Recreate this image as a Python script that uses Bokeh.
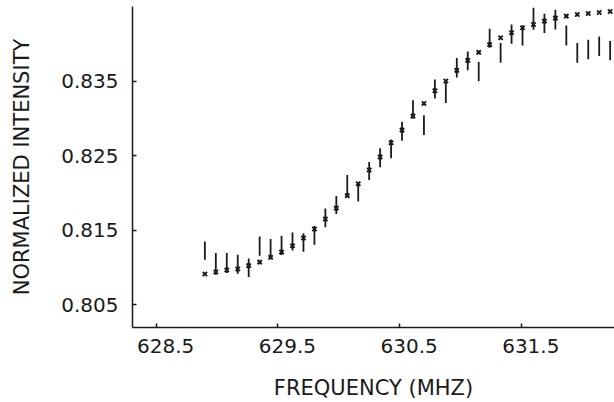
from bokeh.plotting import figure
from bokeh.models import Range1d, FixedTicker, CustomJSTickFormatter
from bokeh.embed import file_html
from bokeh.resources import INLINE

# Frequencies (MHz) of the measured points
freq = [628.90, 628.99, 629.08, 629.17, 629.26, 629.35, 629.44, 629.53, 629.62, 629.71,
        629.80, 629.89, 629.98, 630.07, 630.16, 630.25, 630.34, 630.43, 630.52, 630.61,
        630.70, 630.79, 630.88, 630.97, 631.06, 631.15, 631.24, 631.33, 631.42, 631.51,
        631.60, 631.69, 631.78, 631.87, 631.96, 632.05, 632.14, 632.23]

# Fitted values (x markers)
fit = [0.80915, 0.80942, 0.80968, 0.80982, 0.81026, 0.81075, 0.81137, 0.81209, 0.81293, 0.81398,
       0.81518, 0.81652, 0.81799, 0.81966, 0.82125, 0.82310, 0.82484, 0.82675, 0.82845, 0.83032,
       0.83202, 0.83373, 0.83504, 0.83647, 0.83781, 0.83888, 0.83991, 0.84084, 0.84151, 0.84218,
       0.84262, 0.84306, 0.84347, 0.84373, 0.84396, 0.84409, 0.84423, 0.84436]

# Measured ranges (error bars): upper and lower ends
bar_hi = [0.81351, 0.81196, 0.81196, 0.81173, 0.81123, 0.81418, 0.81383, 0.81427, 0.81471, 0.81460,
          0.81557, 0.81793, 0.81962, 0.82243, 0.82145, 0.82417, 0.82600, 0.82720, 0.82956, 0.83246,
          0.83045, 0.83523, 0.83491, 0.83812, 0.83901, 0.83758, 0.84205, 0.84012, 0.84262, 0.84249,
          0.84486, 0.84405, 0.84459, 0.84249, 0.84012, 0.84058, 0.84102, 0.84039]
bar_lo = [0.81106, 0.80905, 0.80928, 0.80919, 0.80875, 0.81159, 0.81115, 0.81169, 0.81230, 0.81213,
          0.81307, 0.81541, 0.81719, 0.81966, 0.81886, 0.82176, 0.82346, 0.82466, 0.82702, 0.83001,
          0.82778, 0.83269, 0.83210, 0.83549, 0.83647, 0.83500, 0.83951, 0.83750, 0.84004, 0.83981,
          0.84191, 0.84146, 0.84195, 0.83981, 0.83750, 0.83794, 0.83838, 0.83781]

x_ticks = [628.5, 629.5, 630.5, 631.5]
x_tick_labels = ["628.5", "629.5", "630.5", "631.5"]
y_ticks = [0.805, 0.815, 0.825, 0.835]

FONT = "DejaVu Sans"
INK = "#1a1a1a"

p = figure(width=614, height=402,
           x_range=Range1d(628.3053, 632.2658),
           y_range=Range1d(0.80197, 0.84503),
           output_backend="svg", toolbar_location=None,
           min_border_left=132, min_border_right=0,
           min_border_top=6, min_border_bottom=74)

p.outline_line_color = None
p.xgrid.visible = False
p.ygrid.visible = False
p.background_fill_color = "white"
p.border_fill_color = "white"

p.segment(x0=freq, y0=bar_lo, x1=freq, y1=bar_hi, line_color=INK, line_width=1.8)
p.scatter(x=freq, y=fit, marker="x", size=6, line_color=INK, line_width=2)

# x axis: tick marks at the values, labels printed slightly to the right as in the original plot
label_shift = 0.078
label_pos = [t + label_shift for t in x_ticks]
p.xaxis.ticker = FixedTicker(ticks=label_pos, minor_ticks=x_ticks)
p.xaxis.formatter = CustomJSTickFormatter(
    args=dict(pos=label_pos, labs=x_tick_labels),
    code="for (let i = 0; i < pos.length; i++) { if (Math.abs(pos[i] - tick) < 1e-6) return labs[i]; } return '';")
p.xaxis.major_tick_line_color = None
p.xaxis.major_tick_in = 0
p.xaxis.major_tick_out = 0
p.xaxis.minor_tick_line_color = INK
p.xaxis.minor_tick_line_width = 1.5
p.xaxis.minor_tick_in = 4
p.xaxis.minor_tick_out = 0

p.yaxis.ticker = FixedTicker(ticks=y_ticks, minor_ticks=[])
p.yaxis.formatter = CustomJSTickFormatter(code="return tick.toFixed(3);")
p.yaxis.major_tick_in = 4
p.yaxis.major_tick_out = 0
p.yaxis.major_tick_line_width = 1.5
p.yaxis.major_tick_line_color = INK

for ax in (p.xaxis, p.yaxis):
    ax.axis_line_color = INK
    ax.axis_line_width = 1.5
    ax.major_label_text_font = FONT
    ax.major_label_text_font_size = "20px"
    ax.major_label_text_color = INK
    ax.axis_label_text_font = FONT
    ax.axis_label_text_font_size = "21px"
    ax.axis_label_text_font_style = "normal"
    ax.axis_label_text_color = INK

p.xaxis.axis_label = "FREQUENCY (MHZ)"
p.yaxis.axis_label = "NORMALIZED INTENSITY"
p.xaxis.major_label_standoff = 11
p.xaxis.axis_label_standoff = 20
p.yaxis.major_label_standoff = 14
p.yaxis.axis_label_standoff = 24

open("out.html", "w").write(file_html(p, INLINE))
